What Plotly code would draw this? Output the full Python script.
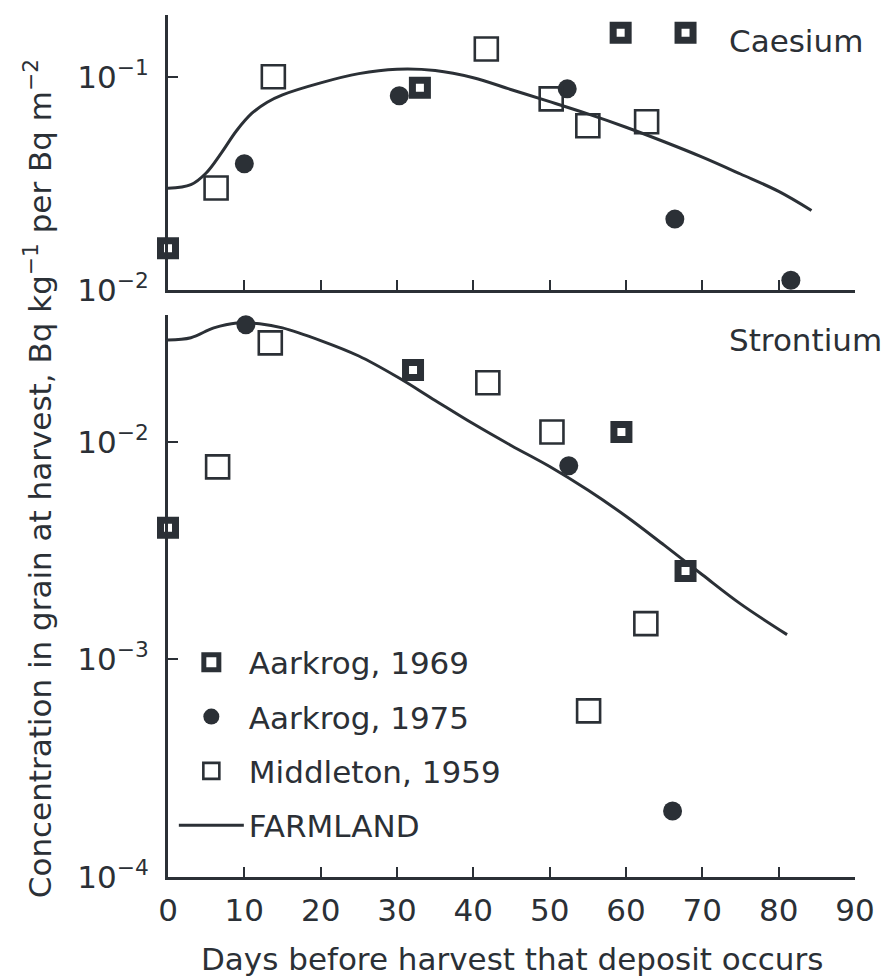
import plotly.graph_objects as go

# Days before harvest that the deposit occurs, and grain concentration
# (Bq kg^-1 per Bq m^-2) at harvest.

# ---- Caesium ----
cs_aark69_days = [0, 33, 59.3, 67.8]
cs_aark69_conc = [0.0157, 0.0888, 0.161, 0.161]

cs_aark75_days = [10, 30.3, 52.3, 66.4, 81.6]
cs_aark75_conc = [0.0391, 0.0815, 0.0878, 0.0215, 0.0111]

cs_midd59_days = [6.3, 13.8, 41.7, 50.2, 55.0, 62.7]
cs_midd59_conc = [0.0301, 0.100, 0.135, 0.0788, 0.0589, 0.0615]

cs_model_days = [0, 3, 5, 7, 9, 11, 13, 15, 20, 25, 30, 35,
                 40, 45, 50, 55, 60, 65, 70, 75, 80, 84.3]
cs_model_conc = [0.0300, 0.0312, 0.0354, 0.0440, 0.0560, 0.0675, 0.0760, 0.0823,
                 0.0937, 0.1035, 0.1085, 0.1070, 0.0990, 0.0870, 0.0765,
                 0.0670, 0.0580, 0.0496, 0.0420, 0.0350, 0.0290, 0.0236]

# ---- Strontium ----
sr_aark69_days = [0, 32.1, 59.4, 67.8]
sr_aark69_conc = [0.00403, 0.0214, 0.0111, 0.00255]

sr_aark75_days = [10.2, 52.5, 66.1]
sr_aark75_conc = [0.0345, 0.00776, 0.000201]

sr_midd59_days = [6.5, 13.4, 41.9, 50.3, 55.1, 62.6]
sr_midd59_conc = [0.00767, 0.0285, 0.0187, 0.0111, 0.00058, 0.00146]

sr_model_days = [0, 3, 6, 9, 12, 15, 20, 25, 30, 35, 40, 45,
                 50, 55, 60, 65, 70, 75, 81.1]
sr_model_conc = [0.0294, 0.0301, 0.0334, 0.0352, 0.0349, 0.0334, 0.0292, 0.0248,
                 0.0199, 0.0155, 0.0121, 0.0096, 0.0077, 0.0060, 0.00455,
                 0.00335, 0.00245, 0.00180, 0.0013]

# Axis tick labels
x_ticks = [0, 10, 20, 30, 40, 50, 60, 70, 80, 90]
cs_ytick_vals = [0.01, 0.1]
cs_ytick_text = ["10<sup>−2</sup>", "10<sup>−1</sup>"]
sr_ytick_vals = [0.0001, 0.001, 0.01]
sr_ytick_text = ["10<sup>−4</sup>", "10<sup>−3</sup>", "10<sup>−2</sup>"]

series_names = ["Aarkrog, 1969", "Aarkrog, 1975", "Middleton, 1959", "FARMLAND"]

INK = "#2b3036"
FONT = "DejaVu Sans, Liberation Sans, Arial, sans-serif"
FS = 31

fig = go.Figure()


def add_panel(xa, ya, a69x, a69y, a75x, a75y, m59x, m59y, mdx, mdy, legend):
    fig.add_trace(go.Scatter(
        x=mdx, y=mdy, mode="lines", name=series_names[3],
        line=dict(color=INK, width=3, shape="spline", smoothing=1.0),
        xaxis=xa, yaxis=ya, showlegend=legend, legendgroup="g4", legendrank=4,
        cliponaxis=False))
    fig.add_trace(go.Scatter(
        x=a69x, y=a69y, mode="markers", name=series_names[0],
        marker=dict(symbol="square-open", size=15, color=INK,
                    line=dict(width=7, color=INK)),
        xaxis=xa, yaxis=ya, showlegend=legend, legendgroup="g1", legendrank=1,
        cliponaxis=False))
    fig.add_trace(go.Scatter(
        x=a75x, y=a75y, mode="markers", name=series_names[1],
        marker=dict(symbol="circle", size=19, color=INK),
        xaxis=xa, yaxis=ya, showlegend=legend, legendgroup="g2", legendrank=2,
        cliponaxis=False))
    fig.add_trace(go.Scatter(
        x=m59x, y=m59y, mode="markers", name=series_names[2],
        marker=dict(symbol="square-open", size=23, color=INK,
                    line=dict(width=2.6, color=INK)),
        xaxis=xa, yaxis=ya, showlegend=legend, legendgroup="g3", legendrank=3,
        cliponaxis=False))


add_panel("x2", "y2", cs_aark69_days, cs_aark69_conc, cs_aark75_days, cs_aark75_conc,
          cs_midd59_days, cs_midd59_conc, cs_model_days, cs_model_conc, False)
add_panel("x", "y", sr_aark69_days, sr_aark69_conc, sr_aark75_days, sr_aark75_conc,
          sr_midd59_days, sr_midd59_conc, sr_model_days, sr_model_conc, True)

axis_common = dict(
    showgrid=False, zeroline=False, showline=True, linecolor=INK, linewidth=3,
    ticks="inside", tickcolor=INK, tickwidth=2, ticklen=10,
    tickfont=dict(family=FONT, size=FS, color=INK), layer="below traces",
)

fig.update_layout(
    width=887, height=980,
    margin=dict(l=168, r=23, t=15, b=103),
    paper_bgcolor="white", plot_bgcolor="white",
    font=dict(family=FONT, size=FS, color=INK),
    xaxis=dict(domain=[0, 1], anchor="y", range=[0, 90], tickvals=x_ticks,
               ticklabelstandoff=4, **axis_common),
    yaxis=dict(domain=[0, 0.652], anchor="x", type="log", range=[-4, -1.417],
               tickvals=sr_ytick_vals, ticktext=sr_ytick_text,
               ticklabelstandoff=10, **axis_common),
    xaxis2=dict(domain=[0, 1], anchor="y2", range=[0, 90], tickvals=x_ticks,
                showticklabels=False, matches="x", **axis_common),
    yaxis2=dict(domain=[0.681, 1], anchor="x2", type="log", range=[-2, -0.71],
                tickvals=cs_ytick_vals, ticktext=cs_ytick_text,
                ticklabelstandoff=10, **axis_common),
    legend=dict(x=0.0085, y=0.28, xanchor="left", yanchor="top",
                bgcolor="rgba(0,0,0,0)", tracegroupgap=11, itemwidth=65,
                font=dict(family=FONT, size=FS, color=INK),
                traceorder="grouped"),
    showlegend=True,
)

fig.add_annotation(text="Caesium", xref="x2 domain", yref="y2 domain",
                   x=0.813, y=0.905, xanchor="left", yanchor="middle",
                   showarrow=False, font=dict(family=FONT, size=FS, color=INK))
fig.add_annotation(text="Strontium", xref="x domain", yref="y domain",
                   x=0.813, y=0.955, xanchor="left", yanchor="middle",
                   showarrow=False, font=dict(family=FONT, size=FS, color=INK))
fig.add_annotation(text="Days before harvest that deposit occurs",
                   xref="paper", yref="paper", x=0.5, y=-0.095,
                   xanchor="center", yanchor="middle", showarrow=False,
                   font=dict(family=FONT, size=FS, color=INK))
fig.add_annotation(text="Concentration in grain at harvest, Bq kg<sup>−1</sup> per Bq m<sup>−2</sup>",
                   xref="paper", yref="paper", x=-0.19, y=0.462,
                   xanchor="center", yanchor="middle", textangle=-90,
                   showarrow=False, font=dict(family=FONT, size=FS, color=INK))

fig.write_html("out.html")
